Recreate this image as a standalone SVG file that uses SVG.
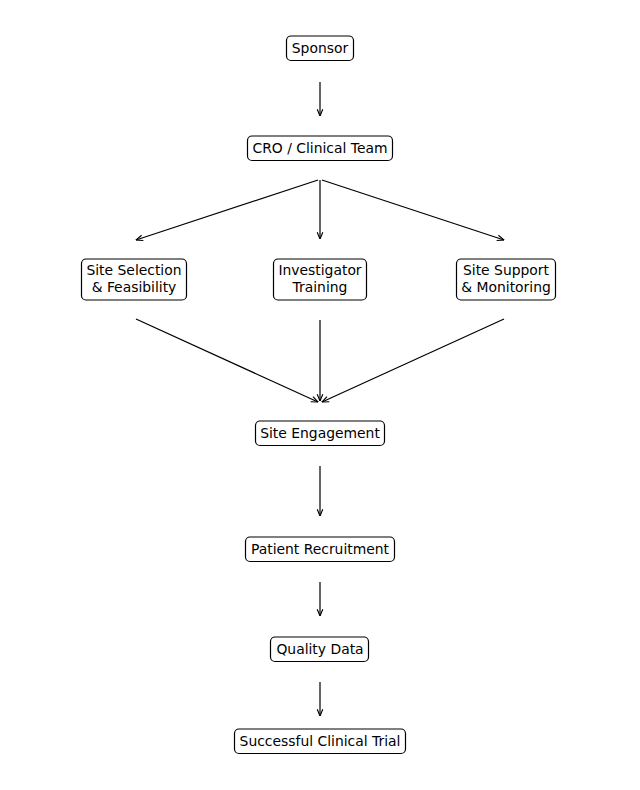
<svg xmlns="http://www.w3.org/2000/svg" width="640" height="790" viewBox="0 0 640 790">
<defs>
<style>
.box{fill:#fff;stroke:#000;stroke-width:1.2}
.t{font-family:"DejaVu Sans",sans-serif;font-size:13.9px;fill:#000;text-anchor:middle}
.c{stroke:#000;stroke-width:1.2;fill:none;marker-end:url(#ah)}
</style>
<marker id="ah" viewBox="0 0 10 10" refX="9.5" refY="5" markerWidth="8" markerHeight="8" markerUnits="userSpaceOnUse" orient="auto">
<path d="M1,1.5 L9.5,5 L1,8.5" fill="none" stroke="#000" stroke-width="1.4"/>
</marker>
</defs>
<rect width="640" height="790" fill="#fff"/>
<g id="connectors">
<line class="c" x1="320" y1="82" x2="320" y2="116"/>
<line class="c" x1="318" y1="180" x2="136" y2="240"/>
<line class="c" x1="320" y1="180" x2="320" y2="239"/>
<line class="c" x1="322" y1="180" x2="504" y2="240"/>
<line class="c" x1="136" y1="319" x2="318" y2="402"/>
<line class="c" x1="320" y1="320" x2="320" y2="401"/>
<line class="c" x1="504" y1="319" x2="322" y2="402"/>
<line class="c" x1="320" y1="466" x2="320" y2="516"/>
<line class="c" x1="320" y1="582" x2="320" y2="616"/>
<line class="c" x1="320" y1="682" x2="320" y2="716"/>
</g>
<g id="sponsor"><rect class="box" x="286.5" y="36" width="67" height="24.5" rx="4.5"/><text class="t" x="320" y="53">Sponsor</text></g>
<g id="cro"><rect class="box" x="247.5" y="136" width="145" height="24.5" rx="4.5"/><text class="t" x="320" y="153">CRO / Clinical Team</text></g>
<g id="site-selection"><rect class="box" x="81.5" y="259" width="105" height="41" rx="4.5"/><text class="t" x="134" y="275">Site Selection</text><text class="t" x="134" y="292">&amp; Feasibility</text></g>
<g id="investigator"><rect class="box" x="273.5" y="259" width="93" height="41" rx="4.5"/><text class="t" x="320" y="275">Investigator</text><text class="t" x="320" y="292">Training</text></g>
<g id="site-support"><rect class="box" x="456.5" y="259" width="99" height="41" rx="4.5"/><text class="t" x="506" y="275">Site Support</text><text class="t" x="506" y="292">&amp; Monitoring</text></g>
<g id="site-engagement"><rect class="box" x="255.5" y="421" width="129" height="24.5" rx="4.5"/><text class="t" x="320" y="438">Site Engagement</text></g>
<g id="patient-recruitment"><rect class="box" x="245.5" y="537" width="149" height="24.5" rx="4.5"/><text class="t" x="320" y="554">Patient Recruitment</text></g>
<g id="quality-data"><rect class="box" x="270.5" y="637" width="98" height="24.5" rx="4.5"/><text class="t" x="320" y="654">Quality Data</text></g>
<g id="successful-trial"><rect class="box" x="234.5" y="729" width="171" height="24.5" rx="4.5"/><text class="t" x="320" y="746">Successful Clinical Trial</text></g>
</svg>
